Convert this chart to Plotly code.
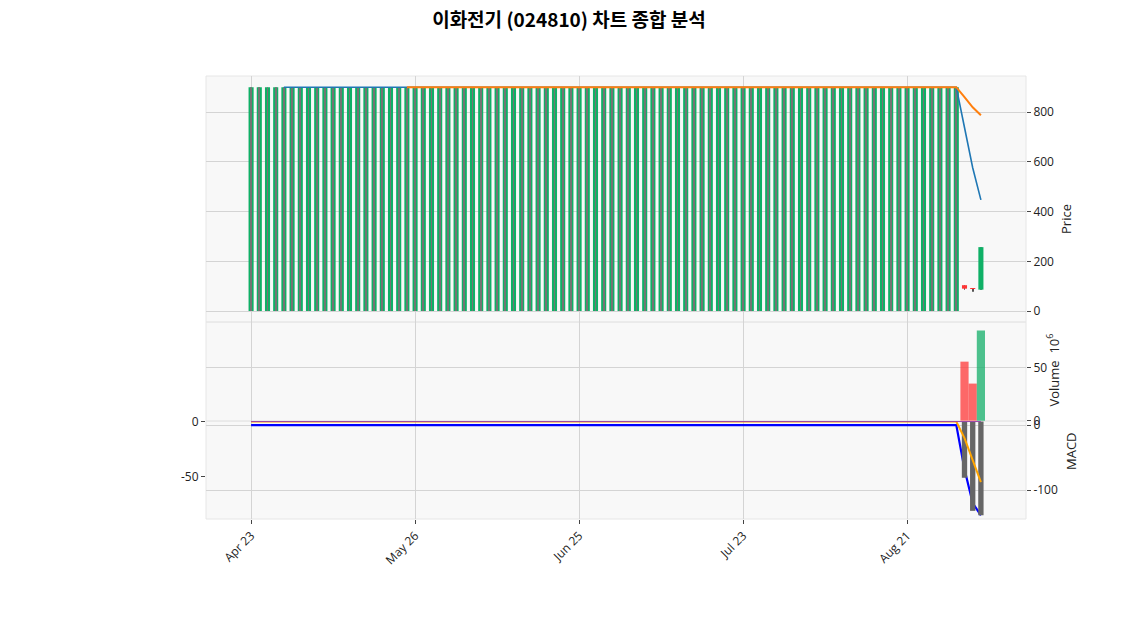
import pandas as pd
import plotly.graph_objects as go

# KRX trading days 2025-04-23 ~ 2025-09-03 (market holidays removed)
holidays = ["2025-05-01", "2025-05-05", "2025-05-06", "2025-06-03",
            "2025-06-06", "2025-08-15"]
days = pd.bdate_range("2025-04-23", "2025-09-03")
dates = [d.strftime("%Y-%m-%d") for d in days
         if d.strftime("%Y-%m-%d") not in holidays]

tick_dates = ["2025-04-23", "2025-05-26", "2025-06-25", "2025-07-23", "2025-08-21"]
tick_labels = ["Apr 23", "May 26", "Jun 25", "Jul 23", "Aug 21"]

# halted days come through as open/low 0, close 900; trading resumes on the last 3 days
opens = [0] * 87 + [104, 92, 86]
highs = [900] * 87 + [104, 92, 257]
lows = [0] * 87 + [86, 78, 86]
closes = [900] * 87 + [90, 89, 257]

ma5 = [None] * 4 + [900] * 83 + [738, 576, 447]
ma20 = [None] * 19 + [900] * 68 + [860, 819, 787]

volume = [0] * 87 + [55.7e6, 35.0e6, 85.0e6]

macd = [0] * 87 + [-68, -120, -139]
signal = [0] * 87 + [-15, -35, -55]
hist = [0] * 87 + [-51, -81, -85]
zero_line = [0] * 90

UP = "#0fb066"
DOWN = "#ff3535"
GRID = "#d4d4d4"
TXT = "#222222"
FONT = "Open Sans"

traded = [v > 0 for v in volume]
body_base = [min(o, c) for o, c in zip(opens, closes)]
body_len = [abs(c - o) for o, c in zip(opens, closes)]
candle_col = [UP if c >= o else DOWN for o, c in zip(opens, closes)]
vol_col = ["rgba(20,175,105,0.75)" if c >= o else "rgba(255,56,56,0.75)"
           for o, c in zip(opens, closes)]

fig = go.Figure()

# wicks of traded days (behind the bodies)
fig.add_trace(go.Bar(x=dates,
                     base=[l if t else None for l, t in zip(lows, traded)],
                     y=[h - l if t else None for h, l, t in zip(highs, lows, traded)],
                     width=0.12, marker=dict(color="#555555", line=dict(width=0)),
                     yaxis="y"))
# bodies
fig.add_trace(go.Bar(x=dates, base=body_base, y=body_len, width=0.62,
                     marker=dict(color=candle_col, line=dict(width=0)),
                     yaxis="y"))
# halted days: wick line shows over the body
fig.add_trace(go.Bar(x=dates,
                     base=[None if t else l for l, t in zip(lows, traded)],
                     y=[None if t else h - l for h, l, t in zip(highs, lows, traded)],
                     width=0.08, marker=dict(color="#747474", line=dict(width=0)),
                     yaxis="y"))

fig.add_trace(go.Scatter(x=dates, y=ma5, mode="lines",
                         line=dict(color="#1f77b4", width=1.6), yaxis="y"))
fig.add_trace(go.Scatter(x=dates, y=ma20, mode="lines",
                         line=dict(color="#ff7f0e", width=2), yaxis="y"))

# volume (in 10^6)
fig.add_trace(go.Bar(x=dates, y=[v / 1e6 for v in volume], width=1.0,
                     marker=dict(color=vol_col, line=dict(width=0)),
                     yaxis="y2"))

# MACD panel
fig.add_trace(go.Scatter(x=dates, y=macd, mode="lines",
                         line=dict(color="#0000ff", width=2.2), yaxis="y3"))
fig.add_trace(go.Bar(x=dates, y=hist, width=0.65,
                     marker=dict(color="#666666", line=dict(width=0)),
                     yaxis="y4"))
fig.add_trace(go.Scatter(x=dates, y=signal, mode="lines",
                         line=dict(color="#ffa500", width=2), yaxis="y4"))
fig.add_trace(go.Scatter(x=dates, y=zero_line, mode="lines",
                         line=dict(color="#9b45a8", width=1), yaxis="y4"))

# panel positions (pixel rows of the 443px plot area)
def dom(top, bot):
    return [(518 - bot) / 443, (518 - top) / 443]

price_dom = dom(75, 321)
vol_dom = dom(321, 420)
macd_dom = dom(420, 518)

tick_font = dict(family=FONT, size=12, color=TXT)
yax = dict(showgrid=True, gridcolor=GRID, gridwidth=1, zeroline=False,
           ticks="outside", ticklen=4, tickcolor="#444", tickfont=tick_font,
           showline=False)

# page body has an 8px margin, so the figure is a bit smaller than the window
fig.update_layout(
    width=1122, height=616,
    margin=dict(l=198, r=104, t=68, b=105),
    paper_bgcolor="white", plot_bgcolor="#f8f8f8",
    barmode="overlay", showlegend=False,
    title=dict(text="<b>이화전기 (024810) 차트 종합 분석</b>",
               x=0.5, xref="container", xanchor="center",
               y=1 - 12 / 616, yref="container", yanchor="middle",
               font=dict(family="Noto Sans CJK KR", size=19, color="black")),
    xaxis=dict(type="category", range=[-5.5, 94.5], anchor="y3",
               tickvals=tick_dates, ticktext=tick_labels, tickangle=-45,
               showgrid=True, gridcolor=GRID, ticks="outside", ticklen=4,
               tickcolor="#444", tickfont=tick_font, showline=False,
               zeroline=False),
    yaxis=dict(domain=price_dom, side="right", anchor="x",
               range=[-44, 945], tickvals=[0, 200, 400, 600, 800], **yax),
    yaxis2=dict(domain=vol_dom, side="right", anchor="x",
                range=[-0.3, 93.1], tickvals=[0, 50], **yax),
    yaxis3=dict(domain=macd_dom, side="right", anchor="x",
                range=[-144.6, 6.2], tickvals=[0, -100], ticktext=["0", "-100"],
                **yax),
    yaxis4=dict(overlaying="y3", side="left", anchor="x",
                range=[-88.4, 0.5], tickvals=[0, -50], ticktext=["0", "-50"],
                **{**yax, "showgrid": False}),
)

# light panel frames
for d in (price_dom, vol_dom, macd_dom):
    fig.add_shape(type="rect", xref="paper", yref="paper", x0=0, x1=1,
                  y0=d[0], y1=d[1], line=dict(color="#e6e6e6", width=1),
                  layer="below")

axis_titles = [("Price", 1076, 201), ("Volume  10<sup>6</sup>", 1063, 369),
               ("MACD", 1081, 471)]
for text, px, py in axis_titles:
    fig.add_annotation(text=text, xref="paper", yref="paper",
                       x=(px - 205) / 820, y=(518 - py) / 443,
                       textangle=-90, showarrow=False,
                       font=dict(family=FONT, size=13, color=TXT))

fig.write_html("out.html")
